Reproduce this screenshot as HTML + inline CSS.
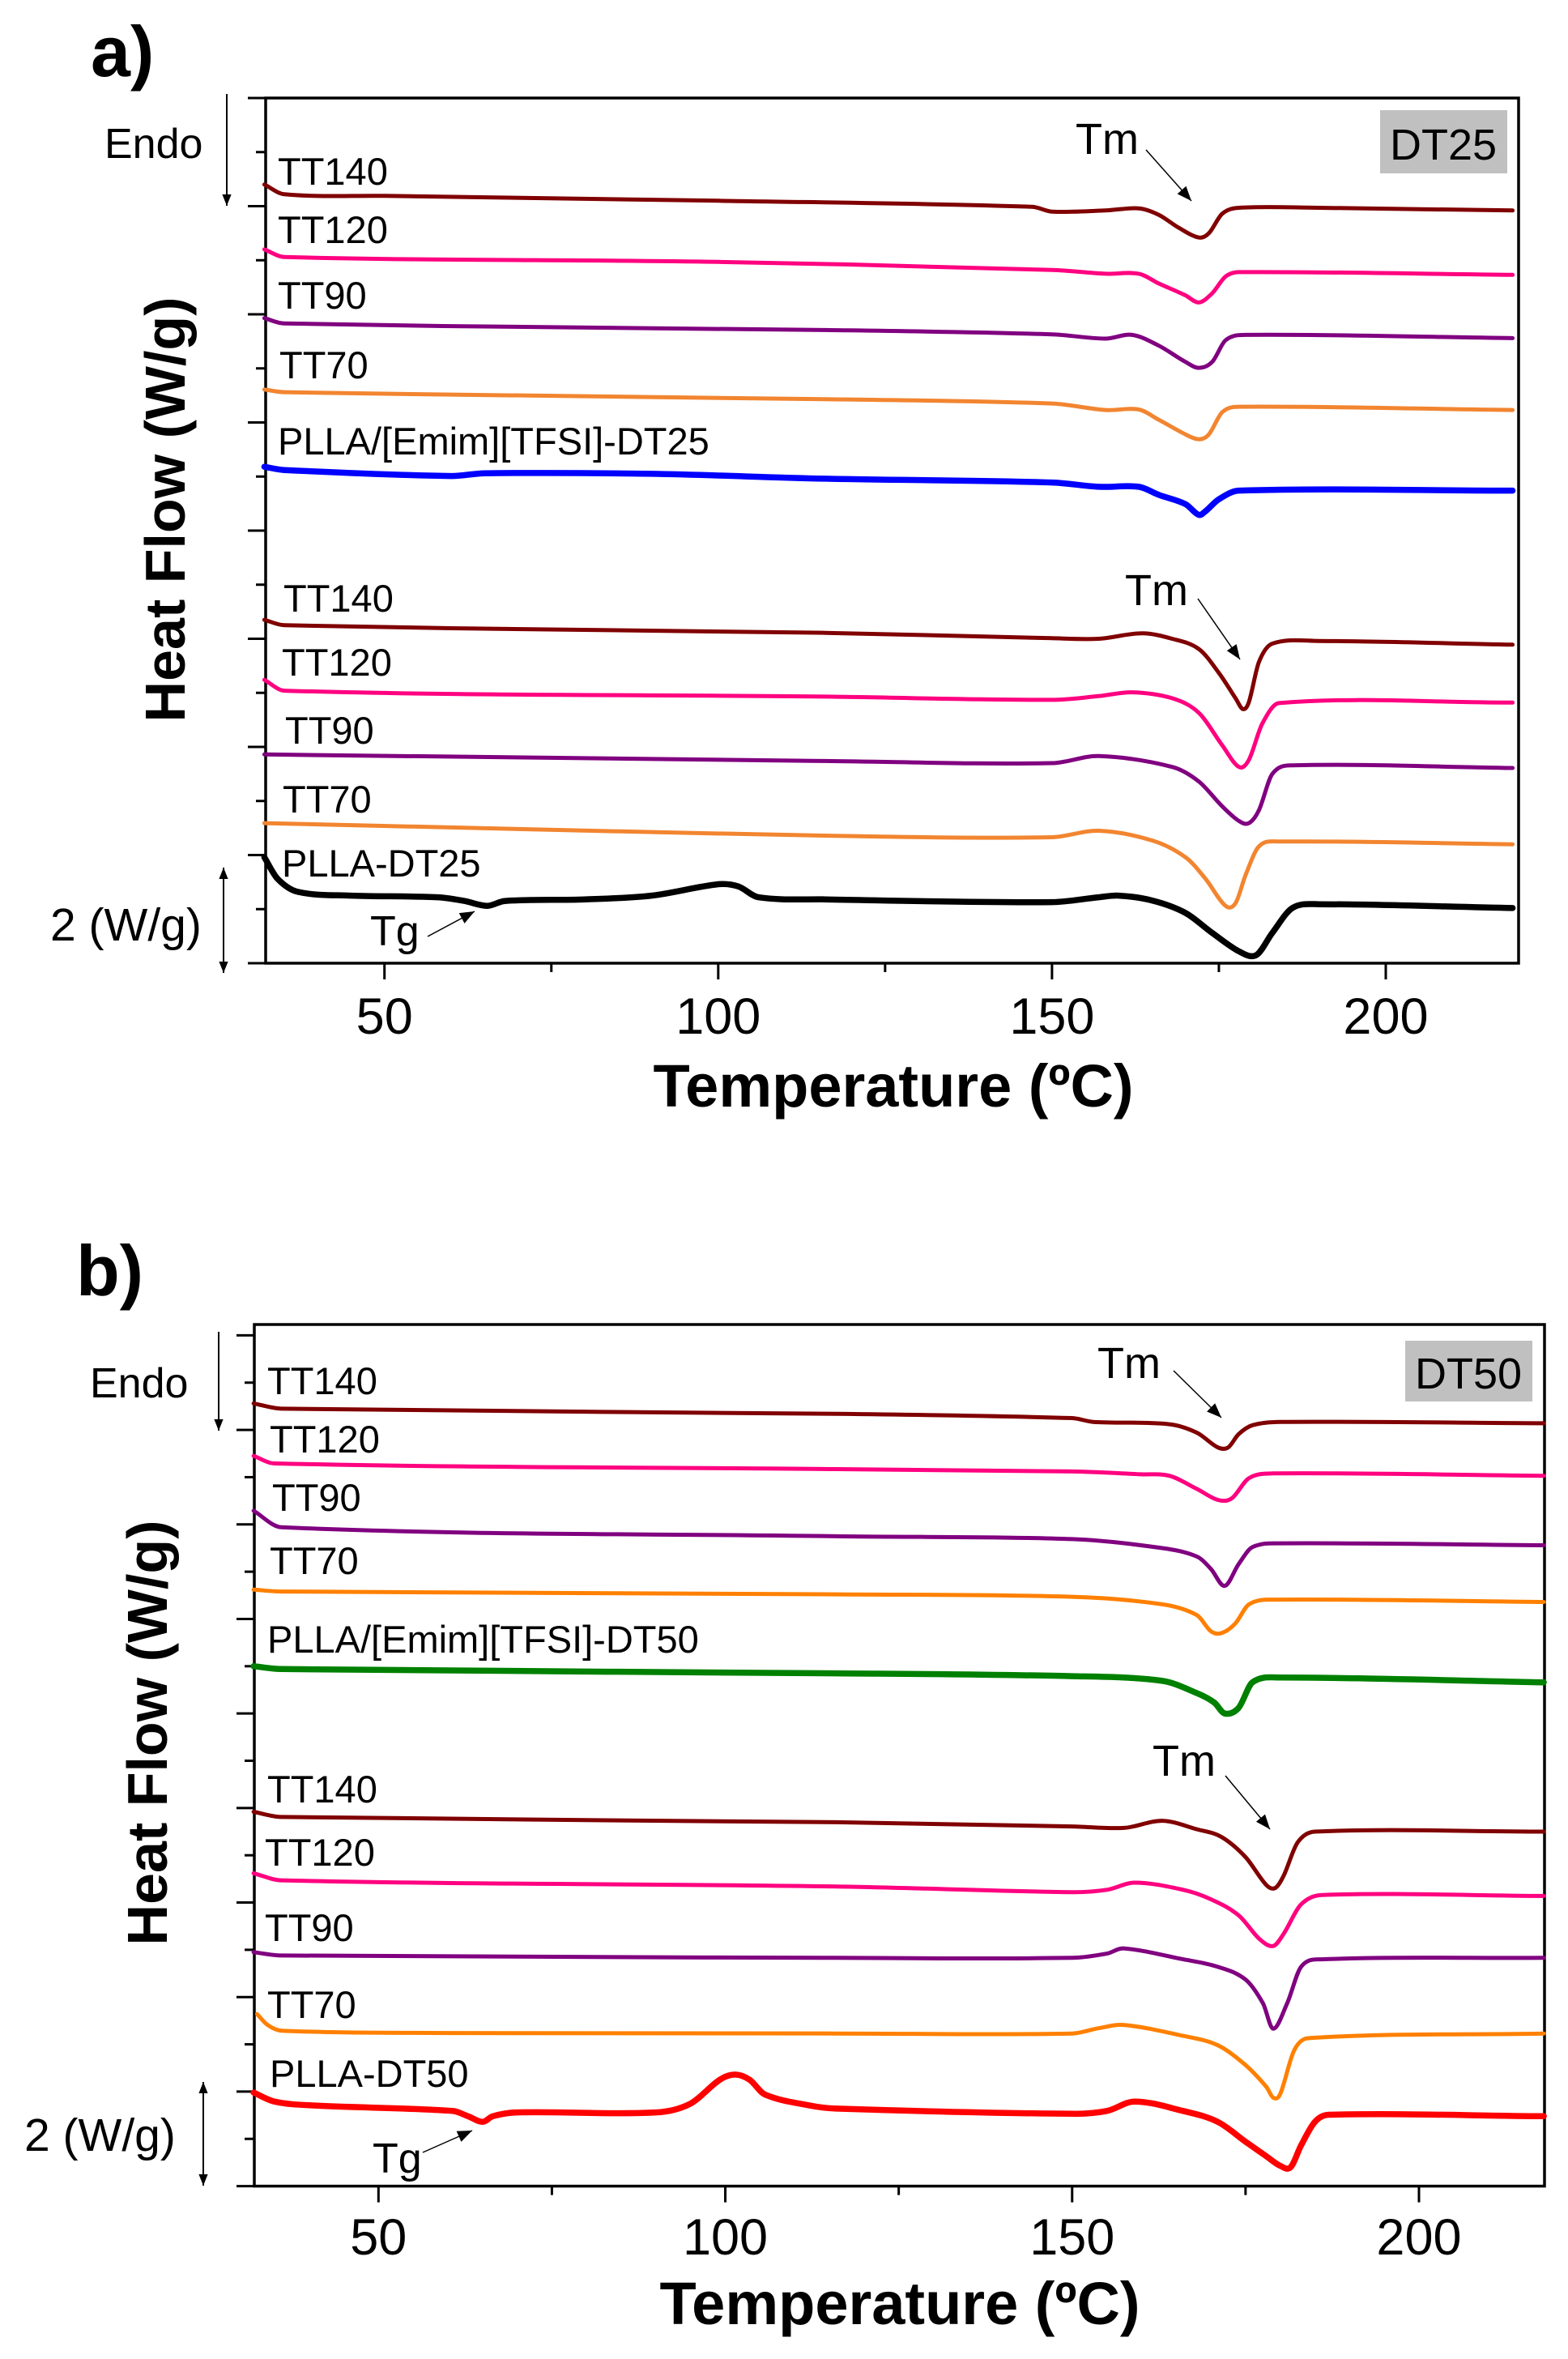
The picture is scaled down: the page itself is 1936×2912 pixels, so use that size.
<!DOCTYPE html>
<html><head><meta charset="utf-8"><style>
html,body{margin:0;padding:0;background:#fff;}
svg{display:block;font-family:"Liberation Sans",Arial,sans-serif;}
</style></head><body>
<svg id="fig" width="1936" height="2912" viewBox="0 0 1936 2912" xmlns="http://www.w3.org/2000/svg">
</svg>
<script>
// ---- Panel a data (temperature °C, heat-flow offset in W/g units) ----
const aTT140T = [32,35,50,100,147,150,158,163,166,169,172,173.5,175.5,178,190,219];
const aTT140V = [14.40,14.22,14.19,14.10,13.99,13.90,13.92,13.96,13.84,13.60,13.42,13.50,13.86,13.97,13.97,13.92];
const aTT120T = [32,35,100,150,158,163,166,170,172,174,176,178,219];
const aTT120V = [13.20,13.06,12.97,12.82,12.75,12.75,12.57,12.35,12.22,12.39,12.70,12.78,12.73];
const aTT90T = [32,35,116,150,158,162,166,170,172,174,176,179,219];
const aTT90V = [11.93,11.83,11.71,11.63,11.55,11.62,11.42,11.12,11.01,11.12,11.52,11.62,11.56];
const aTT70T = [32,35,116,150,158,163,166,170,172,173.5,175.5,178,219];
const aTT70V = [10.61,10.56,10.43,10.35,10.23,10.24,10.05,9.78,9.69,9.78,10.19,10.29,10.23];
const aILT = [32,35,60,65,90,116,150,157,163,166,170,172,173,175,178,219];
const aILV = [9.18,9.12,9.01,9.06,9.05,8.96,8.89,8.81,8.81,8.66,8.49,8.29,8.36,8.58,8.74,8.74];
const aB140T = [32,35,116,150,157,163.5,168,172,175,177.5,178.6,179.5,181,183,190,219];
const aB140V = [6.35,6.25,6.11,6.01,6.00,6.10,6.00,5.81,5.37,4.90,4.70,4.83,5.57,5.91,5.96,5.89];
const aB120T = [32,35,116,150,157,162,168,172,175.5,178,179.5,181.5,184,219];
const aB120V = [5.24,5.04,4.93,4.87,4.94,5.01,4.90,4.63,4.03,3.63,3.76,4.43,4.81,4.82];
const aB90T = [32,116,150,157,168,172,175.5,178,179.5,181,183,186,219];
const aB90V = [3.86,3.74,3.70,3.83,3.63,3.36,2.90,2.63,2.59,2.83,3.50,3.66,3.61];
const aB70T = [32,116,150,157,165,170,173,176,177.5,179,181,184,219];
const aB70V = [2.59,2.36,2.33,2.45,2.27,1.96,1.56,1.06,1.11,1.63,2.16,2.25,2.20];
const aPLLAT = [32,34,37,45,58,62,65.4,68,80,90,100,103,106,116,150,157,160,165,170,174,178,180.6,183,186,190,219];
const aPLLAV = [1.96,1.56,1.32,1.25,1.22,1.15,1.06,1.15,1.18,1.25,1.46,1.42,1.22,1.18,1.13,1.22,1.25,1.16,0.93,0.56,0.22,0.15,0.56,1.02,1.09,1.02];
// ---- Panel b data ----
const bTT140T = [32,36,116,150,153,164,168,171,172.5,174,176,180,218];
const bTT140V = [16.56,16.45,16.34,16.25,16.17,16.12,15.94,15.63,15.63,15.91,16.10,16.17,16.14];
const bTT120T = [32,35,116,150,160,164,168,171,173,175.5,179,218];
const bTT120V = [15.45,15.29,15.17,15.12,15.06,15.03,14.75,14.52,14.55,14.98,15.08,15.03];
const bTT90T = [32,36,116,150,163,168,170,172,174,176,180,218];
const bTT90V = [14.29,13.94,13.75,13.69,13.50,13.32,13.06,12.70,13.16,13.52,13.60,13.56];
const bTT70T = [32,36,116,150,163,168,170,171.5,173.5,175.5,179,218];
const bTT70V = [12.62,12.58,12.52,12.47,12.31,12.08,11.74,11.70,11.90,12.31,12.41,12.36];
const bILT = [32,36,116,150,163,168,170.5,172,174,176,180,218];
const bILV = [11.00,10.94,10.85,10.79,10.69,10.43,10.23,10.00,10.12,10.66,10.76,10.66];
const bB140T = [32,36,116,150,157.5,163,168,171.5,175,178,179.3,180.5,182.5,185,218];
const bB140V = [7.92,7.81,7.70,7.61,7.58,7.73,7.55,7.39,6.96,6.37,6.31,6.57,7.27,7.50,7.50];
const bB120T = [32,36,116,150,155,159,166,170,174,177,179,180.5,183,186,218];
const bB120V = [6.62,6.47,6.34,6.22,6.27,6.42,6.27,6.07,5.73,5.23,5.08,5.34,5.96,6.16,6.14];
const bB90T = [32,36,116,150,155,157.4,166,171,175,177.5,179,181,183,186,218];
const bB90V = [4.95,4.88,4.83,4.83,4.92,5.03,4.80,4.64,4.37,3.87,3.33,3.87,4.64,4.80,4.83];
const bB70T = [32.5,34,36,60,116,150,153.8,157.4,166,171,175,178,179,180,182,184,218];
const bB70V = [3.64,3.41,3.29,3.24,3.23,3.23,3.34,3.41,3.18,2.98,2.56,2.10,1.87,1.95,2.87,3.13,3.23];
const bPLLAT = [32,35,40,60.7,62.9,65,66.5,70,90,94.9,99.2,101.4,103.5,105.7,112,116,150,155,159,166,171,175,178,180,181.5,183,185,187,218];
const bPLLAV = [1.98,1.79,1.71,1.59,1.48,1.36,1.48,1.56,1.56,1.74,2.25,2.36,2.25,1.94,1.71,1.64,1.53,1.59,1.79,1.59,1.36,0.94,0.63,0.43,0.40,0.86,1.36,1.51,1.48];
// ---- ticks ----
const xMajorTicks = [50,100,150,200];
const xMinorTicks = [75,125,175];
const xTickLabels = ["50","100","150","200"];

const NS = "http://www.w3.org/2000/svg";
const svg = document.getElementById("fig");
function el(tag, attrs, parent){ const e=document.createElementNS(NS,tag); for(const k in attrs) e.setAttribute(k,attrs[k]); (parent||svg).appendChild(e); return e; }
function txt(s, attrs, parent){ const t=el("text",attrs,parent); t.textContent=s; return t; }

function smoothPath(pts){
  let d = "M"+pts[0][0].toFixed(1)+","+pts[0][1].toFixed(1);
  for(let i=0;i<pts.length-1;i++){
    const p0=pts[Math.max(i-1,0)], p1=pts[i], p2=pts[i+1], p3=pts[Math.min(i+2,pts.length-1)];
    const dx=p2[0]-p1[0];
    // tangent limited to segment x-span to avoid overshoot
    let m1=(p2[1]-p0[1])/((p2[0]-p0[0])||1), m2=(p3[1]-p1[1])/((p3[0]-p1[0])||1);
    const c1=[p1[0]+dx/3, p1[1]+m1*dx/3], c2=[p2[0]-dx/3, p2[1]-m2*dx/3];
    d += "C"+c1[0].toFixed(1)+","+c1[1].toFixed(1)+" "+c2[0].toFixed(1)+","+c2[1].toFixed(1)+" "+p2[0].toFixed(1)+","+p2[1].toFixed(1);
  }
  return d;
}

function panel(p){
  const g = el("g",{});
  
  
  const sx = t => p.L + (t - p.x0)/(p.x1 - p.x0)*(p.R - p.L);
  const sy = v => p.B - (v - p.y0)/(p.y1 - p.y0)*(p.B - p.T);
  const fr = el("rect",{x:p.L,y:p.T,width:p.R-p.L,height:p.B-p.T,fill:"none",stroke:"#000","stroke-width":3.5},g);
  
  
  for(let v=0; v<=p.yTickMax; v++){
    const y=sy(v); const len = v%2===0?22:12;
    const tk = el("line",{x1:p.L-len,x2:p.L,y1:y,y2:y,stroke:"#000","stroke-width":3},g);
    
    
  }
  xMajorTicks.forEach((t,i)=>{
    const x=sx(t);
    const tk = el("line",{x1:x,x2:x,y1:p.B,y2:p.B+20,stroke:"#000","stroke-width":3},g);
    
    
    const lb = txt(xTickLabels[i],{x:x,y:p.tickBase,"font-size":63,"text-anchor":"middle"},g);
    
    
  });
  xMinorTicks.forEach(t=>{
    const x=sx(t);
    const tk = el("line",{x1:x,x2:x,y1:p.B,y2:p.B+11,stroke:"#000","stroke-width":3},g);
    
    
  });
  p.series.forEach(s=>{
    const pts = s.T.map((t,i)=>[sx(t), sy(s.V[i])]);
    const path = el("path",{d:smoothPath(pts),fill:"none",stroke:s.c,"stroke-width":s.w,"stroke-linejoin":"round","stroke-linecap":"round"},g);
    
    
  });
  return g;
}

panel({id:"a",L:328,R:1875,T:121,B:1189,x0:32.2,x1:219.9,y0:0,y1:16,yTickMax:16,tickBase:1276,
  series:[
    {name:"curve-a-tt140-top",T:aTT140T,V:aTT140V,c:"#800000",w:5},
    {name:"curve-a-tt120-top",T:aTT120T,V:aTT120V,c:"#ff0080",w:5},
    {name:"curve-a-tt90-top",T:aTT90T,V:aTT90V,c:"#800080",w:5},
    {name:"curve-a-tt70-top",T:aTT70T,V:aTT70V,c:"#f28530",w:5},
    {name:"curve-a-plla-emim-dt25",T:aILT,V:aILV,c:"#0000ff",w:7.5},
    {name:"curve-a-tt140-bottom",T:aB140T,V:aB140V,c:"#800000",w:5},
    {name:"curve-a-tt120-bottom",T:aB120T,V:aB120V,c:"#ff0080",w:5},
    {name:"curve-a-tt90-bottom",T:aB90T,V:aB90V,c:"#800080",w:5},
    {name:"curve-a-tt70-bottom",T:aB70T,V:aB70V,c:"#f28530",w:5},
    {name:"curve-a-plla-dt25",T:aPLLAT,V:aPLLAV,c:"#000000",w:7.5}
  ]});
panel({id:"b",L:314,R:1907,T:1635,B:2698.6,x0:32.1,x1:218.1,y0:0,y1:18.23,yTickMax:18,tickBase:2783,
  series:[
    {name:"curve-b-tt140-top",T:bTT140T,V:bTT140V,c:"#800000",w:5},
    {name:"curve-b-tt120-top",T:bTT120T,V:bTT120V,c:"#ff0080",w:5},
    {name:"curve-b-tt90-top",T:bTT90T,V:bTT90V,c:"#800080",w:5},
    {name:"curve-b-tt70-top",T:bTT70T,V:bTT70V,c:"#ff8000",w:5},
    {name:"curve-b-plla-emim-dt50",T:bILT,V:bILV,c:"#008000",w:7.5},
    {name:"curve-b-tt140-bottom",T:bB140T,V:bB140V,c:"#800000",w:5},
    {name:"curve-b-tt120-bottom",T:bB120T,V:bB120V,c:"#ff0080",w:5},
    {name:"curve-b-tt90-bottom",T:bB90T,V:bB90V,c:"#800080",w:5},
    {name:"curve-b-tt70-bottom",T:bB70T,V:bB70V,c:"#ff8000",w:5},
    {name:"curve-b-plla-dt50",T:bPLLAT,V:bPLLAV,c:"#ff0000",w:7.5}
  ]});
</script>
<svg style="position:absolute;left:0;top:0" width="1936" height="2912" viewBox="0 0 1936 2912" xmlns="http://www.w3.org/2000/svg" font-family="Liberation Sans, Arial, sans-serif">
<defs>
<marker id="m1" viewBox="0 0 10 10" refX="10" refY="5" markerWidth="24" markerHeight="18" orient="auto" markerUnits="userSpaceOnUse"><path d="M0,1 L10,5 L0,9 z" fill="#000"/></marker>
<marker id="m2" viewBox="0 0 10 10" refX="10" refY="5" markerWidth="18" markerHeight="14" orient="auto" markerUnits="userSpaceOnUse"><path d="M0,1 L10,5 L0,9 z" fill="#000"/></marker>
</defs>
<!-- Panel a -->
<text x="112" y="94" font-size="88" font-weight="bold">a)</text>
<text transform="translate(228,629) rotate(-90)" font-size="70" font-weight="bold" text-anchor="middle">Heat Flow (W/g)</text>
<text x="1103" y="1366" font-size="74" font-weight="bold" text-anchor="middle">Temperature (ºC)</text>
<text x="129" y="195" font-size="52">Endo</text>
<line x1="280" y1="116" x2="280" y2="254" stroke="#000" stroke-width="2" marker-end="url(#m2)"/>
<text x="62" y="1161" font-size="57">2 (W/g)</text>
<line x1="276" y1="1136" x2="276" y2="1071" stroke="#000" stroke-width="2" marker-end="url(#m2)"/>
<line x1="276" y1="1136" x2="276" y2="1201" stroke="#000" stroke-width="2" marker-end="url(#m2)"/>
<g font-size="47">
<text x="343" y="228">TT140</text>
<text x="343" y="300">TT120</text>
<text x="343" y="381">TT90</text>
<text x="345" y="467">TT70</text>
<text x="343" y="561">PLLA/[Emim][TFSI]-DT25</text>
<text x="350" y="755">TT140</text>
<text x="348" y="834">TT120</text>
<text x="352" y="918">TT90</text>
<text x="349" y="1003">TT70</text>
<text x="348" y="1082">PLLA-DT25</text>
<text x="457" y="1167" font-size="52">Tg</text>
<text x="1328" y="190" font-size="54">Tm</text>
<text x="1389" y="747" font-size="54">Tm</text>
</g>
<line x1="528" y1="1156" x2="586" y2="1125" stroke="#000" stroke-width="1.5" marker-end="url(#m1)"/>
<line x1="1415" y1="185" x2="1471" y2="248" stroke="#000" stroke-width="1.5" marker-end="url(#m1)"/>
<line x1="1479" y1="739" x2="1531" y2="814" stroke="#000" stroke-width="1.5" marker-end="url(#m1)"/>
<rect x="1704" y="136" width="157" height="78" fill="#c0c0c0"/>
<text x="1782" y="197" font-size="54" text-anchor="middle">DT25</text>
<!-- Panel b -->
<text x="94" y="1599" font-size="88" font-weight="bold">b)</text>
<text transform="translate(206,2139) rotate(-90)" font-size="70" font-weight="bold" text-anchor="middle">Heat Flow (W/g)</text>
<text x="1111" y="2869" font-size="74" font-weight="bold" text-anchor="middle">Temperature (ºC)</text>
<text x="111" y="1725" font-size="52">Endo</text>
<line x1="270" y1="1644" x2="270" y2="1766" stroke="#000" stroke-width="2" marker-end="url(#m2)"/>
<text x="30" y="2655" font-size="57">2 (W/g)</text>
<line x1="251" y1="2634" x2="251" y2="2570" stroke="#000" stroke-width="2" marker-end="url(#m2)"/>
<line x1="251" y1="2634" x2="251" y2="2698" stroke="#000" stroke-width="2" marker-end="url(#m2)"/>
<g font-size="47">
<text x="330" y="1721">TT140</text>
<text x="333" y="1793">TT120</text>
<text x="336" y="1865">TT90</text>
<text x="333" y="1943">TT70</text>
<text x="330" y="2040">PLLA/[Emim][TFSI]-DT50</text>
<text x="330" y="2225">TT140</text>
<text x="327" y="2303">TT120</text>
<text x="327" y="2396">TT90</text>
<text x="330" y="2491">TT70</text>
<text x="333" y="2576">PLLA-DT50</text>
<text x="460" y="2682" font-size="52">Tg</text>
<text x="1355" y="1701" font-size="54">Tm</text>
<text x="1423" y="2192" font-size="54">Tm</text>
</g>
<line x1="522" y1="2657" x2="583" y2="2630" stroke="#000" stroke-width="1.5" marker-end="url(#m1)"/>
<line x1="1449" y1="1692" x2="1508" y2="1750" stroke="#000" stroke-width="1.5" marker-end="url(#m1)"/>
<line x1="1513" y1="2192" x2="1568" y2="2258" stroke="#000" stroke-width="1.5" marker-end="url(#m1)"/>
<rect x="1735" y="1655" width="157" height="75" fill="#c0c0c0"/>
<text x="1813" y="1714" font-size="54" text-anchor="middle">DT50</text>
</svg>
</body></html>
